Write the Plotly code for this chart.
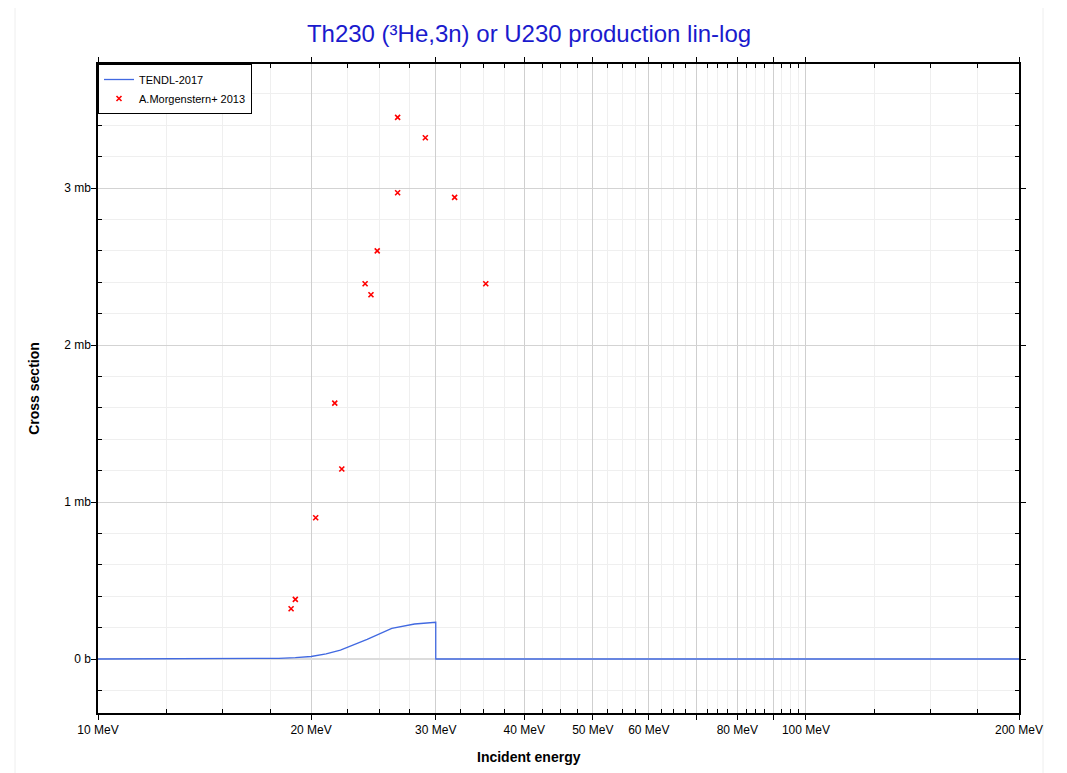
import plotly.graph_objects as go

# TENDL-2017 evaluation (energy in MeV, cross section in mb)
tendl_energy = [10, 14, 17, 18, 19, 20, 21, 22, 24, 26, 28, 30, 30, 60, 100, 200]
tendl_xs = [0, 0, 0.001, 0.004, 0.009, 0.016, 0.033, 0.057, 0.125, 0.195, 0.223, 0.234, 0, 0, 0, 0]

# A.Morgenstern+ 2013 experimental points
exp_energy = [18.74, 19.0, 20.3, 21.6, 22.1, 23.84, 24.3, 24.8, 26.5, 26.5, 29.0, 31.9, 35.3]
exp_xs = [0.32, 0.38, 0.90, 1.63, 1.21, 2.39, 2.32, 2.60, 3.45, 2.97, 3.32, 2.94, 2.39]

# axis ticks
x_major_vals = [10, 20, 30, 40, 50, 60, 70, 80, 90, 100, 200]
x_major_text = ["10 MeV", "20 MeV", "30 MeV", "40 MeV", "50 MeV", "60 MeV", "",
                "80 MeV", "", "100 MeV", "200 MeV"]
x_minor_vals = [12.5, 15, 17.5, 22.5, 25, 27.5, 32.5, 35, 37.5, 42.5, 45, 47.5,
                52.5, 55, 57.5, 62.5, 65, 67.5, 72.5, 75, 77.5, 82.5, 85, 87.5,
                92.5, 95, 97.5, 125, 150, 175]
y_major_vals = [0, 1, 2, 3]
y_major_text = ["0 b", "1 mb", "2 mb", "3 mb"]
y_minor_vals = [-0.2, 0.2, 0.4, 0.6, 0.8, 1.2, 1.4, 1.6, 1.8, 2.2, 2.4, 2.6, 2.8,
                3.2, 3.4, 3.6]

FONT = "Liberation Sans, Arial, sans-serif"

fig = go.Figure()
fig.add_trace(go.Scatter(
    x=tendl_energy, y=tendl_xs, mode="lines", name="TENDL-2017",
    line=dict(color="#4169e1", width=1.3),
))
fig.add_trace(go.Scatter(
    x=exp_energy, y=exp_xs, mode="markers", name="A.Morgenstern+ 2013",
    marker=dict(symbol="x-thin-open", size=5, color="red",
                line=dict(color="red", width=1.6)),
))

fig.update_layout(
    width=1067, height=773,
    margin=dict(l=90, r=56, t=56, b=68),
    paper_bgcolor="white", plot_bgcolor="white",
    font=dict(family=FONT, size=12, color="black"),
    title=dict(text="Th230 (³He,3n) or U230 production lin-log",
               x=521 / 1067, xref="container", xanchor="center",
               y=1 - 26 / 773, yref="container", yanchor="middle",
               font=dict(family=FONT, size=24, color="#1a1acd")),
    showlegend=True,
    legend=dict(x=0, y=1, xanchor="left", yanchor="top",
                bgcolor="white", bordercolor="black", borderwidth=1,
                font=dict(family=FONT, size=11, color="black"),
                tracegroupgap=0, itemwidth=30),
    shapes=[dict(type="rect", xref="paper", yref="paper",
                 x0=-0.0901, x1=1.0261, y0=-0.12, y1=1.0917,
                 line=dict(color="#eeeeee", width=1), layer="below")],
    annotations=[dict(text="<b>Incident energy</b>", xref="paper", yref="paper",
                      x=(529 - 98) / 921, y=(713 - 757) / 649,
                      xanchor="center", yanchor="middle", showarrow=False,
                      font=dict(family=FONT, size=14, color="black"))],
)

fig.update_xaxes(
    type="log", range=[1, 2.30103],
    tickmode="array", tickvals=x_major_vals, ticktext=x_major_text,
    ticks="outside", ticklen=5, tickcolor="black",
    showgrid=True, gridcolor="#cfcfcf", gridwidth=1,
    showline=True, linecolor="black", linewidth=1.5, mirror="allticks",
    tickfont=dict(family=FONT, size=12, color="black"),
    minor=dict(tickmode="array", tickvals=x_minor_vals, ticks="inside",
               ticklen=4, tickcolor="black", showgrid=True,
               gridcolor="#efefef", gridwidth=1),
    zeroline=False,
)
fig.update_yaxes(
    range=[-0.344, 3.79],
    tickmode="array", tickvals=y_major_vals, ticktext=y_major_text,
    ticks="outside", ticklen=5, tickcolor="black", ticklabelstandoff=-2,
    showgrid=True, gridcolor="#d3d3d3", gridwidth=1,
    showline=True, linecolor="black", linewidth=1.5, mirror="allticks",
    tickfont=dict(family=FONT, size=12, color="black"),
    minor=dict(tickmode="array", tickvals=y_minor_vals, ticks="inside",
               ticklen=4, tickcolor="black", showgrid=True,
               gridcolor="#efefef", gridwidth=1),
    zeroline=True, zerolinecolor="#dcdcdc", zerolinewidth=2,
    title=dict(text="<b>Cross section</b>", standoff=21,
               font=dict(family=FONT, size=14, color="black")),
)

fig.write_html("out.html")
